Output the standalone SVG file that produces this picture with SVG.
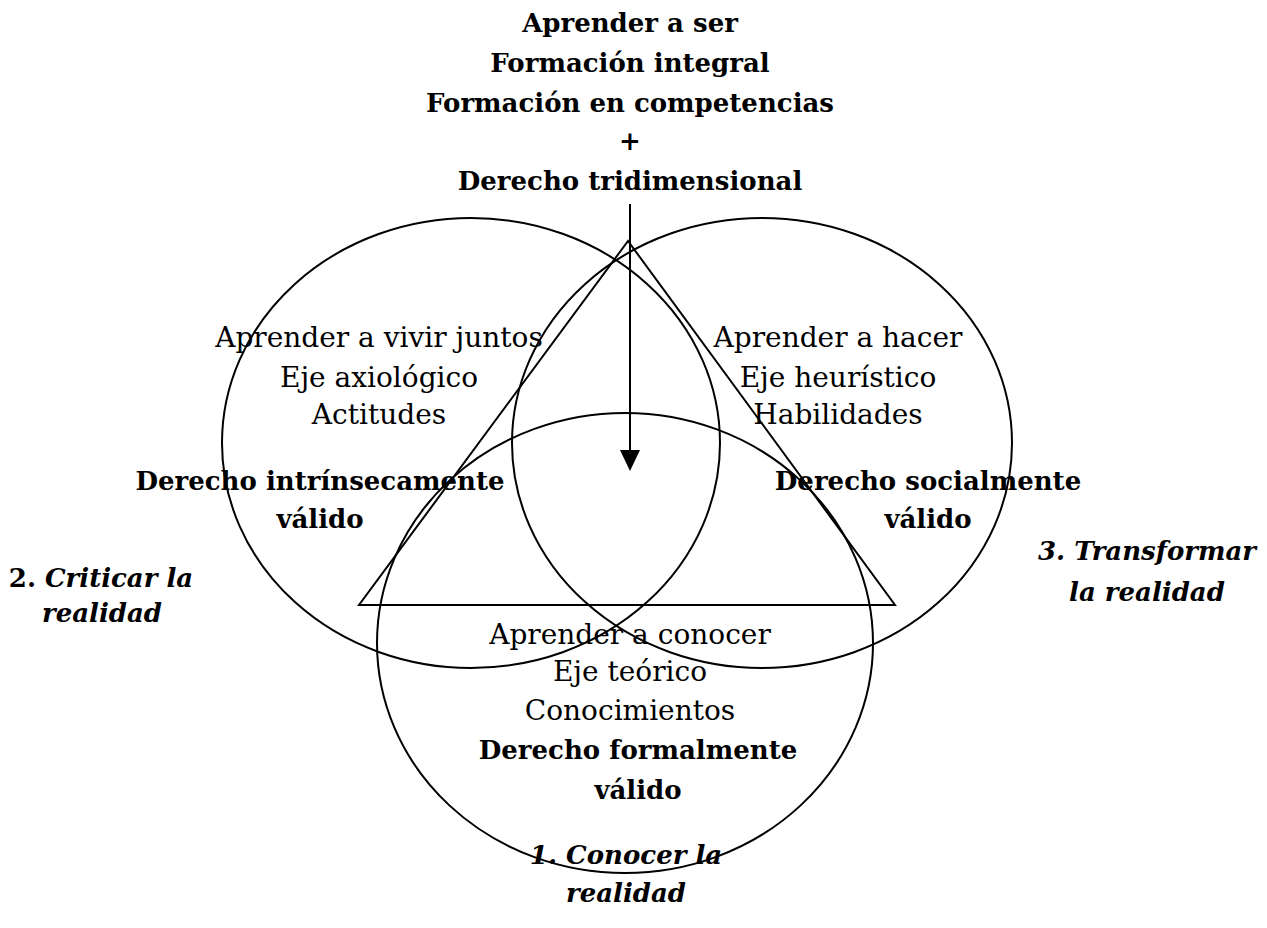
<svg xmlns="http://www.w3.org/2000/svg" width="1267" height="928" viewBox="0 0 1267 928">
<style>
text{font-family:"DejaVu Serif","Liberation Serif",serif;font-size:28px;fill:#000;text-anchor:middle}
.b{font-weight:bold;font-size:26px}
.i{font-style:italic;font-weight:bold;font-size:26px}
.shape{fill:none;stroke:#000;stroke-width:2}
</style>
<rect width="1267" height="928" fill="#fff"/>
<g id="circle-left"><ellipse class="shape" cx="471" cy="443" rx="249" ry="225"/></g>
<g id="circle-right"><ellipse class="shape" cx="762" cy="443" rx="250" ry="225"/></g>
<g id="circle-bottom"><ellipse class="shape" cx="625" cy="643" rx="248" ry="230"/></g>
<g id="triangle"><polygon class="shape" points="628,241 359,605 895,605"/></g>
<g id="connectors"><line x1="630" y1="204" x2="630" y2="452" stroke="#000" stroke-width="2"/><polygon points="620,450 640,450 630,471" fill="#000"/></g>
<g id="title">
<text class="b" x="630" y="32">Aprender a ser</text>
<text class="b" x="630" y="72">Formación integral</text>
<text class="b" x="630" y="112">Formación en competencias</text>
<text class="b" x="630" y="150">+</text>
<text class="b" x="630" y="190">Derecho tridimensional</text>
</g>
<g id="left-content">
<text x="379" y="347">Aprender a vivir juntos</text>
<text x="379" y="387">Eje axiológico</text>
<text x="379" y="424">Actitudes</text>
<text class="b" x="320" y="490">Derecho intrínsecamente</text>
<text class="b" x="320" y="528">válido</text>
</g>
<g id="right-content">
<text x="838" y="347">Aprender a hacer</text>
<text x="838" y="387">Eje heurístico</text>
<text x="838" y="424">Habilidades</text>
<text class="b" x="928" y="490">Derecho socialmente</text>
<text class="b" x="928" y="528">válido</text>
</g>
<g id="bottom-content">
<text x="630" y="644">Aprender a conocer</text>
<text x="630" y="681">Eje teórico</text>
<text x="630" y="720">Conocimientos</text>
<text class="b" x="638" y="759">Derecho formalmente</text>
<text class="b" x="638" y="799">válido</text>
</g>
<g id="label-2">
<text x="101" y="587"><tspan class="b">2.</tspan> <tspan class="i">Criticar la</tspan></text>
<text class="i" x="102" y="622">realidad</text>
</g>
<g id="label-3">
<text class="i" x="1147" y="560">3. Transformar</text>
<text class="i" x="1147" y="601">la realidad</text>
</g>
<g id="label-1">
<text class="i" x="626" y="864">1. Conocer la</text>
<text class="i" x="626" y="902">realidad</text>
</g>
</svg>
